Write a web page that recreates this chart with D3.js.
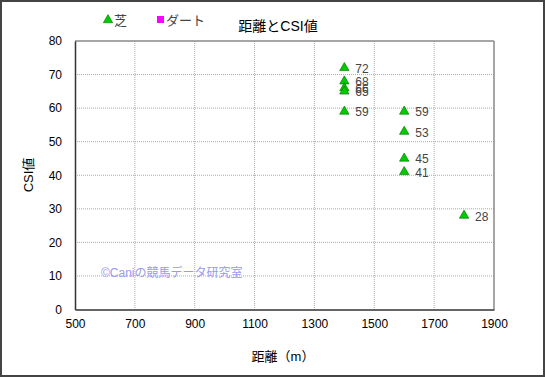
<!DOCTYPE html>
<html>
<head>
<meta charset="utf-8">
<script src="https://cdn.jsdelivr.net/npm/d3@7"></script>
<style>
  body { margin: 0; background: #fff; }
  text { font-family: "Liberation Sans", "Noto Sans CJK JP", sans-serif; }
</style>
</head>
<body>
<div id="chart"></div>
<script>
// chart data
const turfDist = [1400, 1400, 1400, 1400, 1400, 1600, 1600, 1600, 1600, 1800]
const turfCsi  = [72, 68, 66, 65, 59, 59, 53, 45, 41, 28]
const dirtDist = []
const dirtCsi  = []
const xTicks = [500, 700, 900, 1100, 1300, 1500, 1700, 1900]
const yTicks = [0, 10, 20, 30, 40, 50, 60, 70, 80]

const width = 545
const height = 377
const margin = {left: 75, right: 51, top: 41, bottom: 67.5}

const svg = d3.select("#chart")
  .append("svg")
    .attr("width", width)
    .attr("height", height)

// outer frame
svg.append("rect")
  .attr("x", 1).attr("y", 1)
  .attr("width", width - 2).attr("height", height - 2)
  .attr("fill", "#fff")
  .attr("stroke", "#444")
  .attr("stroke-width", 2)

const x = d3.scaleLinear().domain([500, 1900]).range([margin.left, width - margin.right])
const y = d3.scaleLinear().domain([0, 80]).range([height - margin.bottom, margin.top])

// grid
svg.append("g")
  .selectAll("line")
  .data(xTicks.slice(1, -1))
  .join("line")
    .attr("x1", d => x(d)).attr("x2", d => x(d))
    .attr("y1", y(80)).attr("y2", y(0))
    .attr("stroke", "#aaa")
    .attr("stroke-dasharray", "1,1")
svg.append("g")
  .selectAll("line")
  .data(yTicks.slice(1, -1))
  .join("line")
    .attr("x1", x(500)).attr("x2", x(1900))
    .attr("y1", d => y(d)).attr("y2", d => y(d))
    .attr("stroke", "#aaa")
    .attr("stroke-dasharray", "1,1")

// plot frame: top/right gray, left/bottom dark
svg.append("line").attr("x1", x(500)).attr("x2", x(1900)).attr("y1", y(80)).attr("y2", y(80))
  .attr("stroke", "#888").attr("stroke-width", 1.5)
svg.append("line").attr("x1", x(1900)).attr("x2", x(1900)).attr("y1", y(80)).attr("y2", y(0))
  .attr("stroke", "#888").attr("stroke-width", 1.5)

const xAxis = svg.append("g")
  .attr("transform", `translate(0,${y(0)})`)
  .call(d3.axisBottom(x).tickValues(xTicks).tickFormat(d3.format("d")).tickSize(0).tickPadding(10))
xAxis.select(".domain").attr("stroke", "#333").attr("stroke-width", 1.5)
xAxis.selectAll("text").attr("font-size", 12).attr("fill", "#000")

const yAxis = svg.append("g")
  .attr("transform", `translate(${x(500)},0)`)
  .call(d3.axisLeft(y).tickValues(yTicks).tickSize(0).tickPadding(13))
yAxis.select(".domain").attr("stroke", "#333").attr("stroke-width", 1.5)
yAxis.selectAll("text").attr("font-size", 12).attr("fill", "#000")

// watermark
svg.append("text")
  .attr("x", 101).attr("y", 277)
  .attr("font-size", 12)
  .attr("fill", "#9a9aee")
  .text("©Caniの競馬データ研究室")

// titles
svg.append("text")
  .attr("x", 278).attr("y", 31)
  .attr("text-anchor", "middle")
  .attr("font-size", 14)
  .text("距離とCSI値")
svg.append("text")
  .attr("x", 283).attr("y", 361)
  .attr("text-anchor", "middle")
  .attr("font-size", 13)
  .text("距離（m）")
svg.append("text")
  .attr("transform", "translate(33,175) rotate(-90)")
  .attr("text-anchor", "middle")
  .attr("font-size", 13)
  .text("CSI値")

// legend
const tri = d3.symbol().type(d3.symbolTriangle).size(38)
svg.append("path").attr("d", tri).attr("transform", "translate(108,20)")
  .attr("fill", "#00cc00").attr("stroke", "#007700").attr("stroke-width", 0.6)
svg.append("text").attr("x", 114).attr("y", 25).attr("font-size", 13).attr("fill", "#444").text("芝")
svg.append("rect").attr("x", 157).attr("y", 16).attr("width", 7).attr("height", 7).attr("fill", "#ff00ff")
svg.append("text").attr("x", 166).attr("y", 25).attr("font-size", 13).attr("fill", "#444").text("ダート")

// points
const turf = turfDist.map((d, i) => ({dist: d, csi: turfCsi[i]}))
svg.append("g")
  .selectAll("path")
  .data(turf)
  .join("path")
    .attr("d", tri)
    .attr("transform", d => `translate(${x(d.dist)},${y(d.csi)})`)
    .attr("fill", "#00cc00")
    .attr("stroke", "#006600")
    .attr("stroke-width", 0.6)

// value labels (66 and 65 overlap, as in the original)
svg.append("g")
  .selectAll("text")
  .data(turf)
  .join("text")
    .attr("x", d => x(d.dist) + 11)
    .attr("y", d => y(d.csi) + 5)
    .attr("font-size", 12)
    .attr("fill", "#444")
    .text(d => d.csi)
</script>
</body>
</html>
